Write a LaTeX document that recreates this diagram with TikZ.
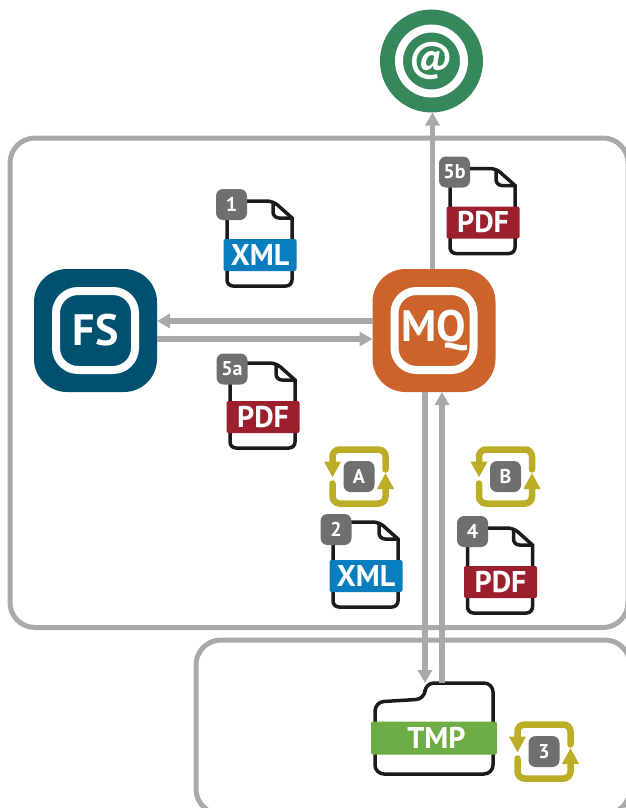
\documentclass[tikz,border=0pt]{standalone}
\usepackage{fontspec}
\setmainfont{PT Sans}
\usetikzlibrary{arrows.meta}

\definecolor{linegray}{HTML}{AAA9A8}
\definecolor{badgegray}{HTML}{706F6E}
\definecolor{inkblack}{HTML}{1D1A1B}
\definecolor{fsblue}{HTML}{00506F}
\definecolor{mqorange}{HTML}{CC632B}
\definecolor{mailgreen}{HTML}{36875A}
\definecolor{xmlblue}{HTML}{0A7DBF}
\definecolor{pdfred}{HTML}{9C1F2E}
\definecolor{tmpgreen}{HTML}{6EAC45}
\definecolor{cycleyellow}{HTML}{BBAD25}

\tikzset{
  zone/.style={draw=linegray, line width=5pt, rounded corners=25pt},
  flow/.style={draw=linegray, line width=5.5pt, -{Triangle[length=13pt,width=14pt]}},
  appbox/.style={rectangle, rounded corners=33pt, minimum size=123pt, inner sep=0pt, outer sep=0pt},
  appring/.style={rectangle, draw=white, line width=8pt, rounded corners=22pt, minimum size=79pt,
    inner sep=0pt, text=white, font=\bfseries\fontsize{44}{44}\selectfont},
  filebody/.style={draw=inkblack, line width=3.5pt},
  band/.style={rectangle, rounded corners=2pt, minimum width=73pt, minimum height=32pt, inner sep=0pt,
    text=white, font=\bfseries\fontsize{30}{30}\selectfont},
  badge/.style={rectangle, fill=badgegray, rounded corners=7pt, minimum size=31pt, inner sep=0pt,
    text=white, font=\bfseries\fontsize{20}{20}\selectfont},
  cyclearc/.style={draw=cycleyellow, line width=6.5pt, rounded corners=7pt, line cap=round,
    -{Triangle[length=16pt,width=16pt]}}
}

% file icon: name, x, y, band colour, band text, badge text, badge offset
\newcommand{\docfile}[8]{
  \begin{scope}[shift={(#2,#3)}]
    \draw[filebody] (13,-54) [sharp corners] -- (32,-37) [rounded corners=6pt] -- (32,31)
      -- (-33,31) -- (-33,-54) -- cycle;
    \draw[filebody, rounded corners=6pt] (13,-54) -- (13,-37) -- (32,-37);
    \node[band, fill=#4] (#1) at (0,0) {#5};
    \node[badge] (#1badge) at (#7,#8) {#6};
  \end{scope}
}

% turn-around icon: name, x, y, badge text
\newcommand{\cycleicon}[4]{
  \begin{scope}[shift={(#2,#3)}]
    \draw[cyclearc] (26.5,-7) -- (26.5,-27) -- (-26.5,-27) -- (-26.5,1);
    \draw[cyclearc] (-26.5,7) -- (-26.5,27) -- (26.5,27) -- (26.5,-3.5);
    \node[badge] (#1) at (0,0) {#4};
  \end{scope}
}

\begin{document}
\begin{tikzpicture}[x=1pt, y=-1pt]
    \useasboundingbox (0,0) rectangle (626,808);
    \clip (0,0) rectangle (626,808);

    % zones
    \draw[zone] (10,138) rectangle (628,627.5);
    \draw[zone] (196,640) rectangle (630,814);

    % main nodes
    \node[circle, fill=mailgreen, minimum size=103pt, inner sep=0pt, outer sep=0pt] (mail) at (431.5,61) {};
    \node[circle, draw=white, line width=8pt, minimum size=65pt, inner sep=0pt, text=white,
      font=\bfseries\fontsize{41}{41}\selectfont] (mailring) at (mail) {@};
    \node[appbox, fill=fsblue] (fs) at (95.5,330.5) {};
    \node[appring] (fsring) at (fs) {FS};
    \node[appbox, fill=mqorange] (mq) at (434,330.5) {};
    \node[appring] (mqring) at (mq) {MQ};

    % temp folder
    \coordinate (tmptop) at (434,683);
    \draw[filebody, rounded corners=9pt] (425,699) -- (425,683) -- (493,683) -- (493,774)
      -- (375,774) -- (375,702) -- cycle;
    \node[band, fill=tmpgreen, minimum width=126pt, minimum height=33pt] (tmp) at (434,738) {\hspace*{5pt}TMP};

    % connectors
    \draw[flow] ([yshift=9.5pt]mq.west) -- ([yshift=9.5pt]fs.east);
    \draw[flow] ([yshift=-8.5pt]fs.east) -- ([yshift=-8.5pt]mq.west);
    \draw[flow] ([xshift=-1.5pt]mq.north) -- ([xshift=-1.5pt]mq.north |- mail.south);
    \draw[flow] ([xshift=-9pt]mq.south) -- ([xshift=-9pt]mq.south |- tmptop);
    \draw[flow] ([xshift=8pt]mq.south |- tmptop) -- ([xshift=8pt]mq.south);

    % files
    \docfile{xmlone}{260}{255}{xmlblue}{XML}{1}{-28.5}{-50.5}
    \docfile{pdffiveb}{483}{222.5}{pdfred}{PDF}{5b}{-28.5}{-50.5}
    \docfile{pdffivea}{263}{417}{pdfred}{PDF}{5a}{-31}{-48}
    \docfile{xmltwo}{366}{576}{xmlblue}{XML}{2}{-30}{-46.5}
    \docfile{pdffour}{500.5}{582}{pdfred}{PDF}{4}{-28}{-50.5}

    % cycles
    \cycleicon{cyclea}{359}{476.5}{A}
    \cycleicon{cycleb}{505.5}{476.5}{B}
    \cycleicon{cyclethree}{544}{751.5}{3}
\end{tikzpicture}
\end{document}
